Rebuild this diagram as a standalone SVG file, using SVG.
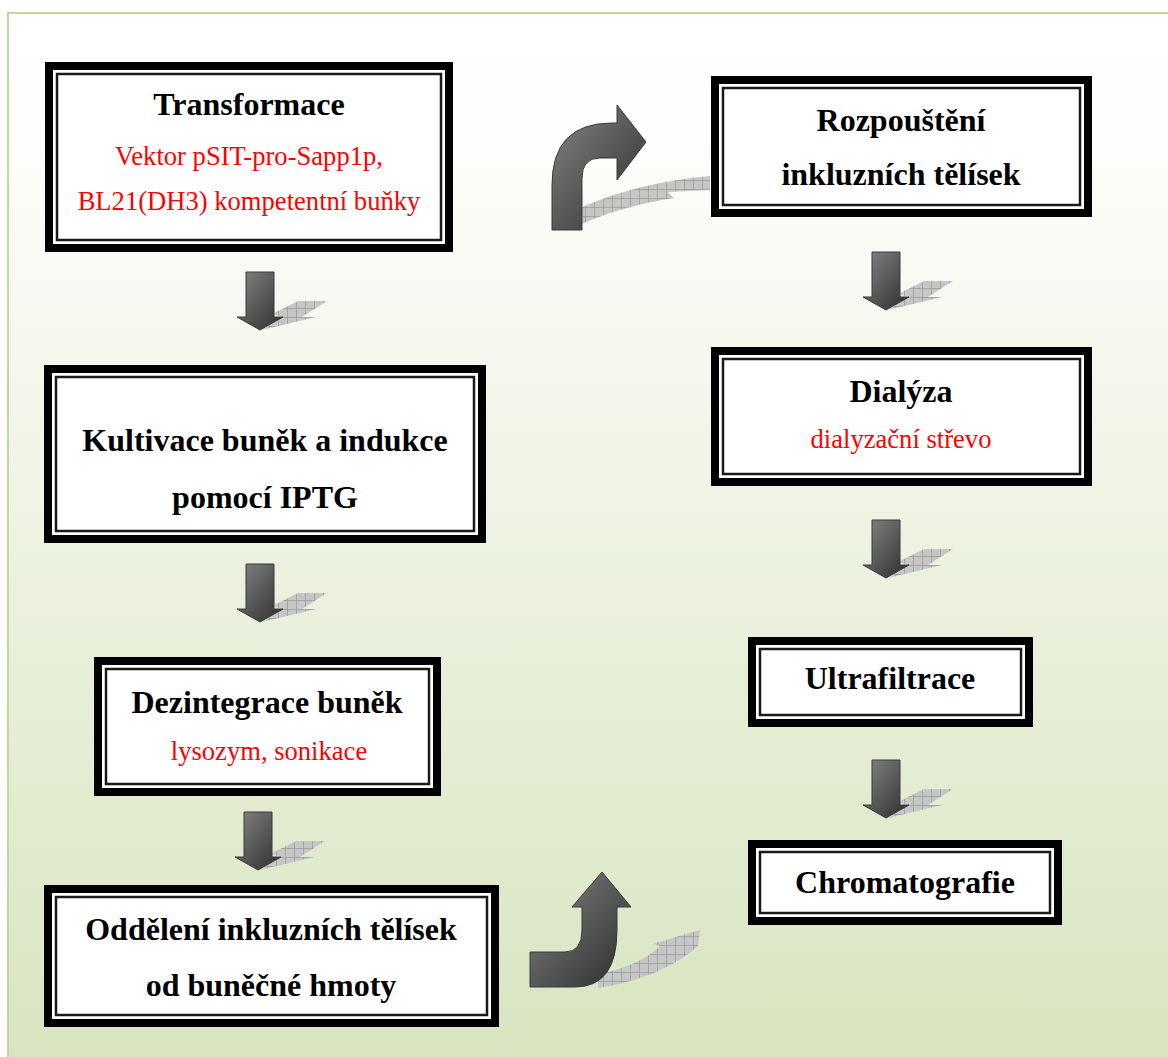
<svg xmlns="http://www.w3.org/2000/svg" xmlns:xlink="http://www.w3.org/1999/xlink" width="1168" height="1057" viewBox="0 0 1168 1057">
<style>
.o{fill:#000}
.w{fill:#fff}
.l{fill:#fff;stroke:#1a1a1a;stroke-width:2.5}
.t{font-family:"Liberation Serif","Times New Roman",serif;font-weight:bold;font-size:32px;fill:#000;text-anchor:middle}
.r{font-family:"Liberation Serif","Times New Roman",serif;font-size:26.6px;fill:#ff0000;text-anchor:middle}
.ar{fill:url(#ag);stroke:#3a3a3a;stroke-width:1}
.sh{fill:url(#hatch)}
</style>
<defs>
<linearGradient id="bg" x1="0" y1="0" x2="0" y2="1">
<stop offset="0" stop-color="#ffffff"/>
<stop offset="0.12" stop-color="#fdfdfb"/>
<stop offset="1" stop-color="#d6e3bc"/>
</linearGradient>
<linearGradient id="ag" x1="0" y1="0" x2="1" y2="1">
<stop offset="0" stop-color="#858585"/>
<stop offset="1" stop-color="#2c2c2c"/>
</linearGradient>
<pattern id="hatch" patternUnits="userSpaceOnUse" width="9" height="9">
<rect width="9" height="9" fill="#c6c6c6"/>
<path d="M0 0.5H9M0.5 0V9" stroke="#9c9c9c" stroke-width="0.8"/>
</pattern>
<path id="da" d="M-14 0H14V45H23L0 58L-23 45H-14Z"/>
<path id="ds" d="M12 42L38 29L67 29L42 45L56 45L2 58L23 45Z"/>
</defs>
<rect x="0" y="0" width="1168" height="1057" fill="#fff"/>
<rect x="8" y="13" width="1200" height="1100" fill="url(#bg)" stroke="#c3d69b" stroke-width="2"/>

<g id="connectors">
<g transform="translate(260,272)"><use xlink:href="#ds" class="sh"/><use xlink:href="#da" class="ar"/></g>
<g transform="translate(260,564)"><use xlink:href="#ds" class="sh"/><use xlink:href="#da" class="ar"/></g>
<g transform="translate(258,812)"><use xlink:href="#ds" class="sh"/><use xlink:href="#da" class="ar"/></g>
<g transform="translate(886,252)"><use xlink:href="#ds" class="sh"/><use xlink:href="#da" class="ar"/></g>
<g transform="translate(886,520)"><use xlink:href="#ds" class="sh"/><use xlink:href="#da" class="ar"/></g>
<g transform="translate(886,760)"><use xlink:href="#ds" class="sh"/><use xlink:href="#da" class="ar"/></g>
<path class="sh" d="M582 207Q640 182 710 176L710 190L668 192L674 198Q622 206 582 224Z"/>
<path class="ar" d="M552 230L552 185Q552 123 612 123L617 123L617 105L646 142L617 180L617 158L600 158Q582 158 582 178L582 230Z"/>
<path class="sh" d="M598 974Q640 966 660 946L652 944L700 930L698 946Q662 978 598 988Z"/>
<path class="ar" d="M530 952L565 952Q582 952 582 930L582 907L572 907L602 872L631 907L617 907L617 930Q617 987 575 987L530 987Z"/>
</g>

<g id="n1">
<rect class="o" x="45" y="62" width="408" height="190"/><rect class="w" x="53" y="70" width="392" height="174"/><rect class="l" x="57" y="74" width="384" height="166"/>
<text class="t" x="249" y="115">Transformace</text>
<text class="r" x="249" y="165">Vektor pSIT-pro-Sapp1p,</text>
<text class="r" x="249" y="210">BL21(DH3) kompetentní buňky</text>
</g>
<g id="n2">
<rect class="o" x="44" y="365" width="442" height="178"/><rect class="w" x="52" y="373" width="426" height="162"/><rect class="l" x="56" y="377" width="418" height="154"/>
<text class="t" x="265" y="451">Kultivace buněk a indukce</text>
<text class="t" x="265" y="508">pomocí IPTG</text>
</g>
<g id="n3">
<rect class="o" x="94" y="657" width="347" height="139"/><rect class="w" x="102" y="665" width="331" height="123"/><rect class="l" x="106" y="669" width="323" height="115"/>
<text class="t" x="267" y="713">Dezintegrace buněk</text>
<text class="r" x="269" y="760">lysozym, sonikace</text>
</g>
<g id="n4">
<rect class="o" x="44" y="885" width="455" height="142"/><rect class="w" x="52" y="893" width="439" height="126"/><rect class="l" x="56" y="897" width="431" height="118"/>
<text class="t" x="271" y="940">Oddělení inkluzních tělísek</text>
<text class="t" x="271" y="996">od buněčné hmoty</text>
</g>
<g id="n5">
<rect class="o" x="711" y="76" width="381" height="141"/><rect class="w" x="719" y="84" width="365" height="125"/><rect class="l" x="723" y="88" width="357" height="117"/>
<text class="t" x="901" y="131">Rozpouštění</text>
<text class="t" x="901" y="185">inkluzních tělísek</text>
</g>
<g id="n6">
<rect class="o" x="711" y="347" width="381" height="139"/><rect class="w" x="719" y="355" width="365" height="123"/><rect class="l" x="723" y="359" width="357" height="115"/>
<text class="t" x="901" y="402">Dialýza</text>
<text class="r" x="901" y="448">dialyzační střevo</text>
</g>
<g id="n7">
<rect class="o" x="748" y="637" width="285" height="90"/><rect class="w" x="756" y="645" width="269" height="74"/><rect class="l" x="760" y="649" width="261" height="66"/>
<text class="t" x="890" y="689">Ultrafiltrace</text>
</g>
<g id="n8">
<rect class="o" x="748" y="840" width="314" height="85"/><rect class="w" x="756" y="848" width="298" height="69"/><rect class="l" x="760" y="852" width="290" height="61"/>
<text class="t" x="905" y="893">Chromatografie</text>
</g>
</svg>
